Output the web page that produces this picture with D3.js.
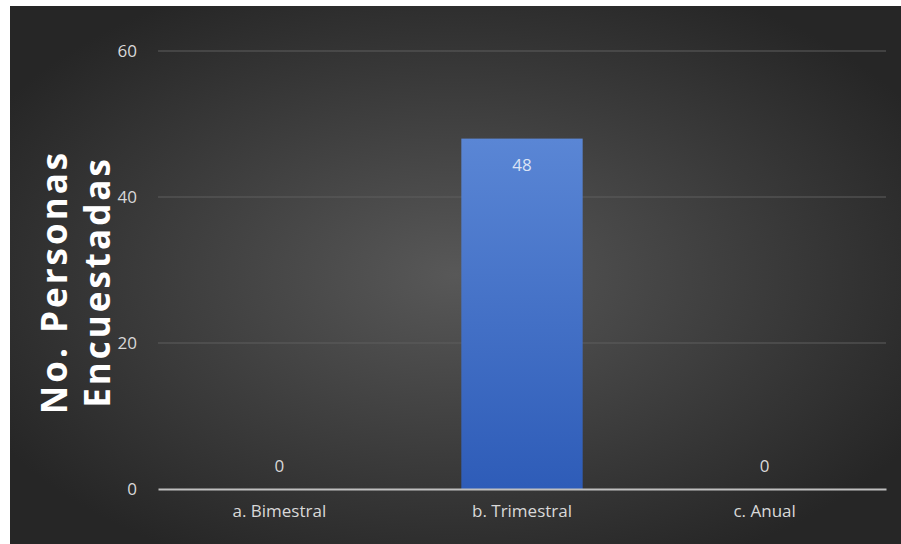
<!DOCTYPE html>
<html>
<head>
<meta charset="utf-8">
<script src="https://cdn.jsdelivr.net/npm/d3@7"></script>
<style>
  body { margin: 0; background: #fff; }
  text { font-family: "Open Sans", "Noto Sans", sans-serif; }
</style>
</head>
<body>
<div id="chart"></div>
<script>
var categories = ["a. Bimestral", "b. Trimestral", "c. Anual"];
var values = [0, 48, 0];
var yTicks = [0, 20, 40, 60];
var yTitle = ["No. Personas", "Encuestadas"];

var W = 901, H = 544;
var margin = {top: 51, right: 15, bottom: 55, left: 158};

var svg = d3.select("#chart").append("svg")
    .attr("width", W)
    .attr("height", H);

var defs = svg.append("defs");
var bg = defs.append("radialGradient").attr("id", "bg")
    .attr("cx", "50%").attr("cy", "50%").attr("r", "60%");
bg.append("stop").attr("offset", "0%").attr("stop-color", "#585858");
bg.append("stop").attr("offset", "100%").attr("stop-color", "#262626");

var barGrad = defs.append("linearGradient").attr("id", "barGrad")
    .attr("x1", 0).attr("y1", 0).attr("x2", 0).attr("y2", 1);
barGrad.append("stop").attr("offset", "0%").attr("stop-color", "#5a86d5");
barGrad.append("stop").attr("offset", "100%").attr("stop-color", "#2e5cb8");

// chart area background (white edge on left and top)
svg.append("rect")
    .attr("x", 10).attr("y", 6)
    .attr("width", W - 10).attr("height", H - 6)
    .attr("fill", "url(#bg)");

var width = 886 - margin.left,
    height = 489 - margin.top;

var g = svg.append("g")
    .attr("transform", "translate(" + margin.left + "," + margin.top + ")");

var x = d3.scaleBand().domain(categories).range([0, width]).paddingInner(0.5).paddingOuter(0.25);
var y = d3.scaleLinear().domain([0, 60]).range([height, 0]);

// gridlines
g.append("g")
    .selectAll("line")
    .data(yTicks.filter(function(d) { return d > 0; }))
    .enter().append("line")
    .attr("x1", 0).attr("x2", width)
    .attr("y1", function(d) { return y(d); })
    .attr("y2", function(d) { return y(d); })
    .attr("stroke", "#5e5e5e")
    .attr("stroke-width", 1);

// y axis labels
var yAxis = g.append("g")
    .call(d3.axisLeft(y).tickValues(yTicks).tickSize(0).tickPadding(21));
yAxis.select(".domain").remove();
yAxis.selectAll("text")
    .attr("fill", "#d9d9d9")
    .style("font-size", "17px");

// bars
g.selectAll(".bar")
    .data(values)
    .enter().append("rect")
    .attr("class", "bar")
    .attr("x", function(d, i) { return x(categories[i]); })
    .attr("y", function(d) { return y(d); })
    .attr("width", x.bandwidth())
    .attr("height", function(d) { return height - y(d); })
    .attr("fill", "url(#barGrad)");

// data labels
g.selectAll(".lbl")
    .data(values)
    .enter().append("text")
    .attr("class", "lbl")
    .attr("x", function(d, i) { return x(categories[i]) + x.bandwidth() / 2; })
    .attr("y", function(d) { return d > 0 ? y(d) + 32 : y(d) - 17; })
    .attr("text-anchor", "middle")
    .attr("fill", function(d) { return d > 0 ? "#dbe4f5" : "#d9d9d9"; })
    .style("font-size", "17px")
    .text(function(d) { return d; });

// x axis
var xAxis = g.append("g")
    .attr("transform", "translate(0," + height + ")")
    .call(d3.axisBottom(x).tickSize(0).tickPadding(16));
xAxis.select(".domain")
    .attr("stroke", "#bfbfbf")
    .attr("stroke-width", 2);
xAxis.selectAll("text")
    .attr("fill", "#d9d9d9")
    .style("font-size", "17px");

// y title (two lines)
svg.append("text")
    .attr("transform", "translate(67,282) rotate(-90)")
    .attr("text-anchor", "middle")
    .attr("fill", "#ffffff")
    .style("font-size", "35px")
    .style("font-weight", "bold")
    .style("letter-spacing", "3px")
    .selectAll("tspan")
    .data(yTitle)
    .enter().append("tspan")
    .attr("x", 0)
    .attr("dy", function(d, i) { return i === 0 ? 0 : 43; })
    .text(function(d) { return d; });
</script>
</body>
</html>
